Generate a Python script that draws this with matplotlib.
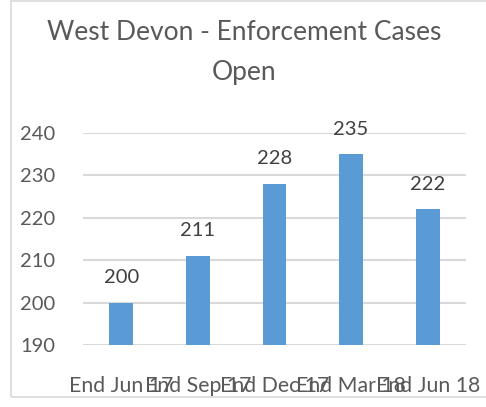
import matplotlib.pyplot as plt
from matplotlib.patches import Rectangle

categories = ['End Jun 17', 'End Sep 17', 'End Dec 17', 'End Mar 18', 'End Jun 18']
cases_open = [200, 211, 228, 235, 222]
yticks = [190, 200, 210, 220, 230, 240]

plt.rcParams['font.family'] = ['Lato', 'DejaVu Sans']

fig = plt.figure(figsize=(4.86, 4.07), dpi=100)
ax = fig.add_axes([0.1708, 0.1523, 0.788, 0.5209])

# chart border
fig.patches.append(Rectangle((0.0226, 0.0246), 1.2, 0.973, transform=fig.transFigure,
                             fill=False, edgecolor='#D9D9D9', linewidth=1.2))

x = range(len(categories))
bars = ax.bar(x, cases_open, width=0.31, color='#5B9BD5', zorder=3)
ax.set_ylim(190, 240)
ax.set_xlim(-0.5, len(categories) - 0.5)
ax.set_yticks(yticks)
ax.set_xticks(list(x))
ax.set_xticklabels(categories)
ax.tick_params(axis='both', length=0, labelsize=14.5, labelcolor='#595959')
ax.tick_params(axis='y', pad=20)
ax.tick_params(axis='x', pad=22, labelsize=15.3)
ax.grid(axis='y', color='#D9D9D9', linewidth=1.5, zorder=0)
for s in ax.spines.values():
    s.set_visible(False)

for xi, v in zip(x, cases_open):
    ax.annotate(str(v), (xi, v), xytext=(0, 25), textcoords='offset pixels',
                ha='center', va='center', fontsize=14.5, color='#404040')

fig.text(0.503, 0.921, 'West Devon - Enforcement Cases', ha='center', va='center',
         fontsize=19, color='#595959')
fig.text(0.503, 0.823, 'Open', ha='center', va='center', fontsize=19, color='#595959')

fig.savefig('out.png', dpi=100)
